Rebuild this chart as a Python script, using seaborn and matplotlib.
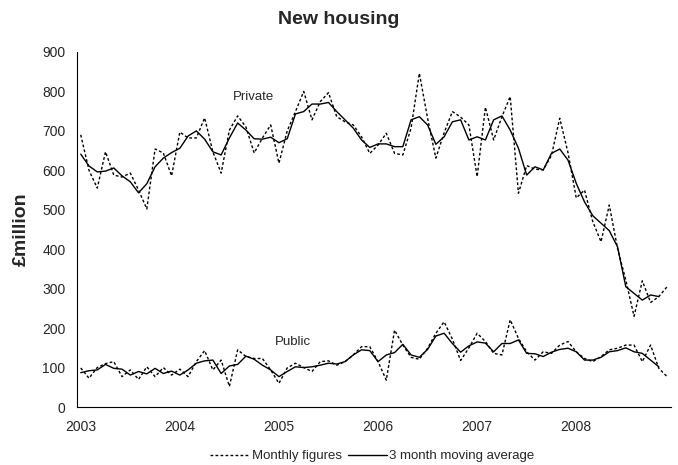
import numpy as np
import pandas as pd
import matplotlib
matplotlib.use("Agg")
import matplotlib.pyplot as plt
import seaborn as sns
from matplotlib.lines import Line2D

# monthly values Jan 2003 - Dec 2008, £ million
years = ["2003", "2004", "2005", "2006", "2007", "2008"]

private_monthly = [690, 600, 555, 647, 588, 583, 593, 550, 502, 654, 644, 586,
                   697, 682, 682, 733, 647, 593, 702, 738, 710, 644, 682, 715,
                   618, 700, 749, 800, 728, 774, 797, 736, 723, 715, 685, 643,
                   664, 694, 643, 639, 707, 846, 732, 631, 695, 749, 735, 715,
                   584, 760, 677, 736, 787, 542, 612, 603, 601, 638, 732, 645,
                   530, 550, 470, 419, 512, 402, 322, 230, 320, 265, 280, 305]

private_avg = [641, 611, 596, 598, 606, 586, 571, 543, 566, 609, 631, 645,
               656, 687, 700, 679, 647, 639, 682, 720, 702, 680, 679, 684,
               670, 680, 743, 749, 768, 768, 772, 749, 728, 707, 677, 658,
               667, 667, 660, 660, 728, 736, 715, 666, 685, 723, 728, 677,
               685, 677, 728, 738, 702, 656, 588, 609, 601, 643, 654, 626,
               567, 520, 485, 466, 447, 406, 305, 288, 271, 284, 280]

public_monthly = [99, 73, 100, 110, 115, 77, 94, 70, 102, 77, 100, 81,
                  96, 77, 115, 143, 94, 119, 52, 145, 128, 123, 123, 94,
                  60, 99, 111, 100, 90, 115, 117, 106, 115, 132, 153, 153,
                  115, 68, 195, 157, 126, 121, 149, 187, 216, 172, 118, 150,
                  187, 166, 136, 132, 221, 174, 140, 119, 140, 136, 157, 166,
                  140, 123, 115, 128, 145, 149, 157, 157, 115, 157, 98, 77]

public_avg = [87, 92, 94, 108, 98, 96, 81, 90, 84, 98, 85, 91,
              81, 94, 111, 117, 119, 85, 104, 108, 129, 121, 106, 94,
              77, 90, 102, 100, 102, 106, 111, 109, 115, 132, 145, 143,
              115, 132, 138, 159, 132, 126, 146, 180, 187, 161, 139, 155,
              165, 162, 140, 161, 161, 170, 136, 135, 128, 139, 146, 149,
              140, 119, 119, 126, 140, 143, 150, 140, 136, 119, 102]

sns.set_style("white")
plt.rcParams['font.family'] = ['Liberation Sans', 'DejaVu Sans']

month = np.arange(len(private_monthly))
df_m = pd.DataFrame({"month": month, "private": private_monthly, "public": public_monthly})
df_a = pd.DataFrame({"month": month[:len(private_avg)], "private": private_avg, "public": public_avg})

fig = plt.figure(figsize=(6.78, 4.65), dpi=100)
ax = fig.add_axes([0.113, 0.1247, 0.877, 0.7635])

dotted = (0, (2.0, 1.6))
for col in ["private", "public"]:
    sns.lineplot(data=df_m, x="month", y=col, ax=ax, color="black",
                 linewidth=1.0, linestyle=dotted)
    sns.lineplot(data=df_a, x="month", y=col, ax=ax, color="black",
                 linewidth=1.0)

ax.text(20.9, 787, "Private", ha="center", va="center", fontsize=9.5)
ax.text(25.7, 166, "Public", ha="center", va="center", fontsize=9.5)

ax.set_xlim(-0.5, len(private_monthly) - 0.5)
ax.set_ylim(0, 900)
ax.set_yticks(range(0, 901, 100))
ax.set_xticks(np.arange(0, len(private_monthly), 12))
ax.set_xticklabels(years)
ax.set_xticks(np.arange(-0.5, len(private_monthly), 1), minor=True)
ax.tick_params(axis="x", which="major", length=0, pad=9, labelsize=10)
ax.tick_params(axis="x", which="minor", length=5, width=0.8, direction="out", color="black")
ax.tick_params(axis="y", length=4, width=0.8, direction="out", pad=4, labelsize=10, color="black")
ax.set_xlabel("")
ax.set_ylabel("")

sns.despine(ax=ax)
for s in ["left", "bottom"]:
    ax.spines[s].set_color("black")
    ax.spines[s].set_linewidth(0.8)

fig.text(0.5, 0.958, "New housing", ha="center", va="center", fontsize=14, fontweight="bold")
fig.text(0.031, 0.508, "£million", ha="center", va="center", rotation=90,
         fontsize=14, fontweight="bold")

handles = [Line2D([0], [0], color="black", linewidth=1.0, linestyle=dotted),
           Line2D([0], [0], color="black", linewidth=1.0)]
fig.legend(handles, ["Monthly figures", "3 month moving average"], loc="center",
           bbox_to_anchor=(0.549, 0.019), ncol=2, frameon=False, fontsize=9.5,
           handlelength=3.0, handletextpad=0.15, columnspacing=0.45)

fig.savefig("out.png", dpi=100)
